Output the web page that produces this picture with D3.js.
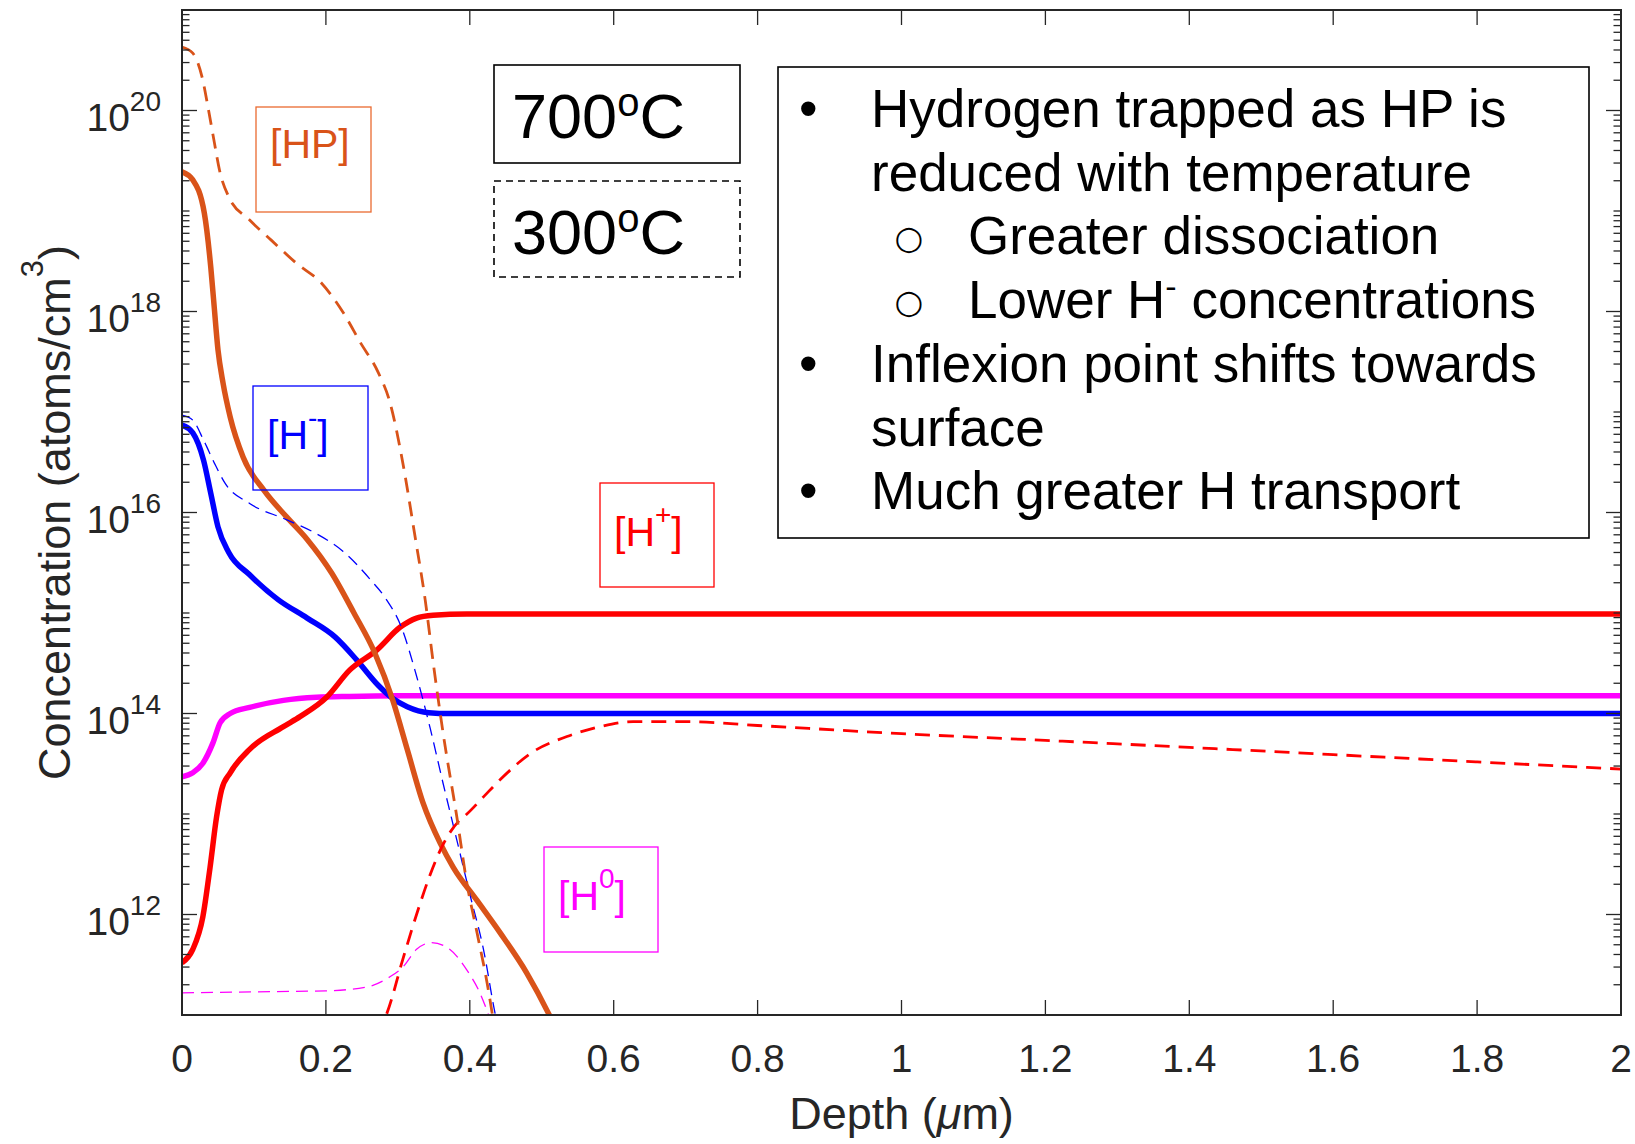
<!DOCTYPE html>
<html><head><meta charset="utf-8">
<script src="https://cdn.jsdelivr.net/npm/d3@7"></script>
<style>
body{margin:0;background:#fff}
svg{display:block}
text{font-family:"Liberation Sans",Arial,Helvetica,sans-serif}
</style>
</head><body>
<svg id="chart" width="1635" height="1144"></svg>
<script>
// ---------------- data (depth in µm, concentration in atoms/cm^3) ----------------
const depthHP700 = [0, 0.015, 0.031, 0.040, 0.044, 0.050, 0.057, 0.067, 0.085, 0.114, 0.145, 0.174, 0.208, 0.239, 0.268, 0.293, 0.313, 0.335, 0.359, 0.377, 0.410, 0.442, 0.479, 0.509, 0.53];
const concHP700  = [2.45e19, 2.04e19, 9.55e18, 2.75e18, 1.29e18, 4.17e17, 1.95e17, 8.9e16, 3.55e16, 1.66e16, 9.1e15, 5.4e15, 2.5e15, 1.0e15, 4.0e14, 1.35e14, 4.4e13, 1.29e13, 5.1e12, 2.95e12, 1.38e12, 6.6e11, 2.63e11, 1.05e11, 5.0e10];

const depthHP300 = [0, 0.015, 0.028, 0.037, 0.045, 0.052, 0.065, 0.094, 0.124, 0.159, 0.194, 0.224, 0.248, 0.273, 0.288, 0.308, 0.323, 0.338, 0.350, 0.363, 0.382, 0.396, 0.410, 0.424, 0.431, 0.44];
const concHP300  = [4.27e20, 3.72e20, 2.14e20, 1.0e20, 4.79e19, 2.57e19, 1.38e19, 8.13e18, 5.13e18, 3.02e18, 1.91e18, 9.77e17, 4.9e17, 2.45e17, 1.32e17, 2.82e16, 6.31e15, 1.35e15, 2.88e14, 6.31e13, 9.33e12, 2.04e12, 6.61e11, 2.09e11, 1.05e11, 4.0e10];

const depthHm700 = [0, 0.015, 0.030, 0.040, 0.050, 0.065, 0.094, 0.134, 0.174, 0.213, 0.243, 0.273, 0.293, 0.313, 0.343, 0.372, 0.45, 2.0];
const concHm700  = [7.4e16, 6.2e16, 3.3e16, 1.55e16, 7.2e15, 4.0e15, 2.4e15, 1.35e15, 8.9e14, 5.75e14, 3.4e14, 1.9e14, 1.41e14, 1.17e14, 1.02e14, 1.0e14, 1.0e14, 1.0e14];

const depthHm300 = [0, 0.015, 0.030, 0.045, 0.060, 0.094, 0.145, 0.184, 0.224, 0.263, 0.283, 0.305, 0.325, 0.345, 0.363, 0.382, 0.400, 0.419, 0.435, 0.445];
const concHm300  = [9.3e16, 8.3e16, 5.25e16, 3.1e16, 1.95e16, 1.23e16, 8.5e15, 6.3e15, 4.1e15, 2.1e15, 1.4e15, 7.2e14, 2.5e14, 7.1e13, 2.0e13, 5.5e12, 1.6e12, 4.5e11, 1.05e11, 5.0e10];

const depthHp700 = [0, 0.015, 0.029, 0.039, 0.048, 0.055, 0.067, 0.094, 0.141, 0.164, 0.201, 0.233, 0.271, 0.303, 0.326, 0.349, 0.396, 0.5, 2.0];
const concHp700  = [3.3e11, 4.5e11, 9.5e11, 2.95e12, 9.3e12, 1.74e13, 2.57e13, 4.4e13, 7.4e13, 9.3e13, 1.45e14, 2.7e14, 4.3e14, 7.2e14, 8.9e14, 9.5e14, 9.8e14, 9.8e14, 9.8e14];

const depthHp300 = [0.27, 0.285, 0.307, 0.326, 0.345, 0.363, 0.386, 0.396, 0.419, 0.442, 0.488, 0.535, 0.581, 0.627, 0.70, 0.8, 1.0, 1.2, 1.4, 1.6, 1.8, 2.0];
const concHp300  = [6.3e10, 1.05e11, 3.6e11, 1.0e12, 2.5e12, 5.0e12, 8.7e12, 1.0e13, 1.48e13, 2.19e13, 4.17e13, 5.9e13, 7.4e13, 8.3e13, 8.3e13, 7.6e13, 6.3e13, 5.4e13, 4.6e13, 3.9e13, 3.3e13, 2.8e13];

const depthH0700 = [0, 0.015, 0.029, 0.043, 0.053, 0.067, 0.094, 0.141, 0.187, 0.233, 0.3, 2.0];
const concH0700  = [2.35e13, 2.57e13, 3.2e13, 5.1e13, 8.1e13, 1.0e14, 1.15e14, 1.35e14, 1.45e14, 1.48e14, 1.5e14, 1.5e14];

const depthH0300 = [0, 0.1, 0.2, 0.257, 0.289, 0.307, 0.326, 0.347, 0.372, 0.396, 0.414, 0.425, 0.435];
const concH0300  = [1.66e11, 1.7e11, 1.74e11, 1.9e11, 2.4e11, 3.0e11, 4.5e11, 5.25e11, 4.5e11, 2.8e11, 1.66e11, 1.05e11, 6.3e10];

const xTickValues = [0, 0.2, 0.4, 0.6, 0.8, 1, 1.2, 1.4, 1.6, 1.8, 2];
const xTickLabels = ["0", "0.2", "0.4", "0.6", "0.8", "1", "1.2", "1.4", "1.6", "1.8", "2"];
const yTickExponents = [12, 14, 16, 18, 20];

const tempLabels = ["700", "300"];
const noteLines = [
  {bullet: "\u2022", parts: [["Hydrogen trapped as HP is", 0]], level: 0},
  {bullet: "",       parts: [["reduced with temperature", 0]], level: 0},
  {bullet: "\u25CB", parts: [["Greater dissociation", 0]], level: 1},
  {bullet: "\u25CB", parts: [["Lower H", 0], ["-", 1], [" concentrations", 0]], level: 1},
  {bullet: "\u2022", parts: [["Inflexion point shifts towards", 0]], level: 0},
  {bullet: "",       parts: [["surface", 0]], level: 0},
  {bullet: "\u2022", parts: [["Much greater H transport", 0]], level: 0}
];

// ---------------- layout ----------------
const P = {left: 182, right: 1621, top: 10, bottom: 1015};
const AX = "#262626";
const C = {HP: "#D95319", HPbox: "#EA6A30", Hm: "#0000FF", Hp: "#FF0000", H0: "#FF00FF"};

const x = d3.scaleLinear().domain([0, 2]).range([P.left, P.right]);
const y = d3.scaleLog().domain([1e11, 1e21]).range([P.bottom, P.top]);

const svg = d3.select("#chart");
svg.append("rect").attr("width", 1635).attr("height", 1144).attr("fill", "#fff");
svg.append("defs").append("clipPath").attr("id", "clip")
  .append("rect").attr("x", P.left).attr("y", P.top)
  .attr("width", P.right - P.left).attr("height", P.bottom - P.top);

// ---------------- curves ----------------
const zip = (a, b) => a.map((v, i) => [v, b[i]]);
const series = [
  {pts: zip(depthH0700, concH0700), color: C.H0, w: 5.5, dash: null},
  {pts: zip(depthHm700, concHm700), color: C.Hm, w: 5.5, dash: null},
  {pts: zip(depthHp700, concHp700), color: C.Hp, w: 5.5, dash: null},
  {pts: zip(depthHP700, concHP700), color: C.HP, w: 5.5, dash: null},
  {pts: zip(depthH0300, concH0300), color: C.H0, w: 1.3, dash: "12,7"},
  {pts: zip(depthHm300, concHm300), color: C.Hm, w: 1.3, dash: "12,7"},
  {pts: zip(depthHp300, concHp300), color: C.Hp, w: 2.8, dash: "15,9"},
  {pts: zip(depthHP300, concHP300), color: C.HP, w: 2.8, dash: "15,9"}
];
const line = d3.line().x(p => x(p[0])).y(p => y(p[1])).curve(d3.curveMonotoneX);
const gLines = svg.append("g").attr("clip-path", "url(#clip)");
series.forEach(s => {
  gLines.append("path").attr("d", line(s.pts))
    .attr("fill", "none").attr("stroke", s.color).attr("stroke-width", s.w)
    .attr("stroke-dasharray", s.dash).attr("stroke-linejoin", "round");
});

// ---------------- axes ----------------
const gAx = svg.append("g");
const majorLen = 15, minorLen = 7.5;
xTickValues.forEach((v, i) => {
  const px = x(v);
  gAx.append("line").attr("x1", px).attr("x2", px).attr("y1", P.bottom).attr("y2", P.bottom - majorLen).attr("stroke", AX).attr("stroke-width", 1.3);
  gAx.append("line").attr("x1", px).attr("x2", px).attr("y1", P.top).attr("y2", P.top + majorLen).attr("stroke", AX).attr("stroke-width", 1.3);
  gAx.append("text").attr("x", px).attr("y", 1072).attr("text-anchor", "middle")
    .attr("font-size", 39).attr("fill", AX).text(xTickLabels[i]);
});
for (let e = 11; e <= 20; e++) {
  for (let k = 1; k <= 9; k++) {
    const v = k * Math.pow(10, e);
    if (v <= 1e11) continue;
    const major = (k === 1 && yTickExponents.includes(e));
    const len = major ? majorLen : minorLen;
    const py = y(v);
    gAx.append("line").attr("x1", P.left).attr("x2", P.left + len).attr("y1", py).attr("y2", py).attr("stroke", AX).attr("stroke-width", 1.3);
    gAx.append("line").attr("x1", P.right).attr("x2", P.right - len).attr("y1", py).attr("y2", py).attr("stroke", AX).attr("stroke-width", 1.3);
  }
}
yTickExponents.forEach(e => {
  const py = y(Math.pow(10, e));
  const t = gAx.append("text").attr("x", 161).attr("y", py + 20).attr("text-anchor", "end").attr("fill", AX).attr("font-size", 39);
  t.append("tspan").text("10");
  t.append("tspan").attr("font-size", 28).attr("dy", -20).text(String(e));
});
gAx.append("rect").attr("x", P.left).attr("y", P.top).attr("width", P.right - P.left).attr("height", P.bottom - P.top)
  .attr("fill", "none").attr("stroke", AX).attr("stroke-width", 2);

// axis labels
const xl = svg.append("text").attr("x", (P.left + P.right) / 2).attr("y", 1129).attr("text-anchor", "middle")
  .attr("font-size", 45).attr("fill", AX);
xl.append("tspan").text("Depth (");
xl.append("tspan").attr("font-style", "italic").text("\u03BC");
xl.append("tspan").text("m)");

const yl = svg.append("text").attr("transform", `translate(70,${(P.top + P.bottom) / 2}) rotate(-90)`)
  .attr("text-anchor", "middle").attr("font-size", 45).attr("fill", AX);
yl.append("tspan").text("Concentration (atoms/cm");
yl.append("tspan").attr("font-size", 31).attr("dy", -27).text("3");
yl.append("tspan").attr("dy", 27).text(")");

// ---------------- species labels ----------------
function labelBox(bx, by, bw, bh, stroke, color, main, sup, close, baseOff) {
  svg.append("rect").attr("x", bx).attr("y", by).attr("width", bw).attr("height", bh)
    .attr("fill", "none").attr("stroke", stroke).attr("stroke-width", 1.3);
  const t = svg.append("text").attr("x", bx + 14).attr("y", by + baseOff).attr("font-size", 41).attr("fill", color);
  t.append("tspan").text(main);
  if (sup) {
    t.append("tspan").attr("font-size", 28).attr("dy", -22).text(sup);
    t.append("tspan").attr("dy", 22).text(close);
  } else {
    t.append("tspan").text(close);
  }
}
labelBox(256, 107, 115, 105, C.HPbox, C.HP, "[HP", null, "]", 51);
labelBox(253, 386, 115, 104, C.Hm, C.Hm, "[H", "-", "]", 63);
labelBox(600, 483, 114, 104, C.Hp, C.Hp, "[H", "+", "]", 63);
labelBox(544, 847, 114, 105, C.H0, C.H0, "[H", "0", "]", 63);

// ---------------- temperature boxes ----------------
const tempBoxes = [{y: 65, h: 98, dash: null}, {y: 181, h: 96, dash: "7,5"}];
tempBoxes.forEach((b, i) => {
  svg.append("rect").attr("x", 494).attr("y", b.y).attr("width", 246).attr("height", b.h)
    .attr("fill", "#fff").attr("stroke", "#000").attr("stroke-width", 1.6).attr("stroke-dasharray", b.dash);
  const t = svg.append("text").attr("x", 512).attr("y", b.y + 73).attr("font-size", 63).attr("fill", "#000");
  t.append("tspan").text(tempLabels[i]);
  t.append("tspan").attr("font-size", 40).attr("dy", -22).text("o");
  t.append("tspan").attr("dy", 22).text("C");
});

// ---------------- notes box ----------------
svg.append("rect").attr("x", 778).attr("y", 67).attr("width", 811).attr("height", 471)
  .attr("fill", "#fff").attr("stroke", "#000").attr("stroke-width", 1.6);
noteLines.forEach((ln, i) => {
  const by = 127 + i * 63.7;
  if (ln.bullet === "\u2022") {
    svg.append("text").attr("x", 799).attr("y", by).attr("font-size", 53).attr("fill", "#000").text(ln.bullet);
  } else if (ln.bullet) {
    svg.append("text").attr("x", 909).attr("y", by - 5).attr("text-anchor", "middle")
      .style("font-family", "'DejaVu Sans'").style("font-size", "33px").attr("fill", "#000").text(ln.bullet);
  }
  const t = svg.append("text").attr("x", ln.level ? 968 : 871).attr("y", by).attr("font-size", 53).attr("fill", "#000");
  let raised = false;
  ln.parts.forEach(([s, sup]) => {
    const ts = t.append("tspan").text(s);
    if (sup) { ts.attr("font-size", 34).attr("dy", -20); raised = true; }
    else if (raised) { ts.attr("dy", 20); raised = false; }
  });
});
</script>
</body></html>
